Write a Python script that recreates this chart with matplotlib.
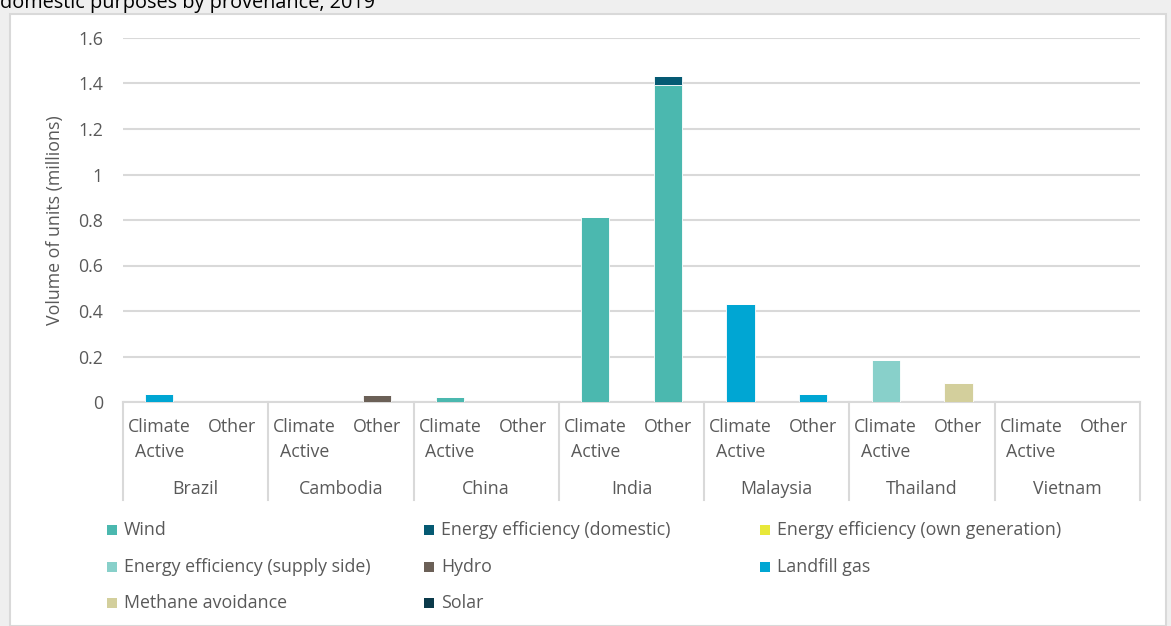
import matplotlib
matplotlib.use("Agg")
import matplotlib.pyplot as plt
from matplotlib.patches import Rectangle
from matplotlib.transforms import blended_transform_factory
import numpy as np

plt.rcParams['font.family'] = ['Open Sans', 'DejaVu Sans']

countries = ["Brazil", "Cambodia", "China", "India", "Malaysia", "Thailand", "Vietnam"]
provenance = ["Climate\nActive", "Other"]

# Volumes (millions of units) per slot: country x provenance (Climate Active, Other)
wind = [0, 0, 0, 0, 0.02, 0, 0.815, 1.395, 0, 0, 0, 0, 0, 0]
ee_domestic = [0, 0, 0, 0, 0, 0, 0, 0.04, 0, 0, 0, 0, 0, 0]
ee_own_generation = [0, 0, 0, 0, 0, 0, 0, 0, 0, 0, 0, 0, 0, 0]
ee_supply_side = [0, 0, 0, 0, 0, 0, 0, 0, 0, 0, 0.185, 0, 0, 0]
hydro = [0, 0, 0, 0.03, 0, 0, 0, 0, 0, 0, 0, 0, 0, 0]
landfill_gas = [0.035, 0, 0, 0, 0, 0, 0, 0, 0.43, 0.035, 0, 0, 0, 0]
methane_avoidance = [0, 0, 0, 0, 0, 0, 0, 0, 0, 0, 0, 0.085, 0, 0]
solar = [0, 0, 0, 0, 0, 0, 0, 0, 0, 0, 0, 0, 0, 0]

series = [
    ("Wind", wind, "#4BB8AF"),
    ("Energy efficiency (domestic)", ee_domestic, "#055A73"),
    ("Energy efficiency (own generation)", ee_own_generation, "#E8E83A"),
    ("Energy efficiency (supply side)", ee_supply_side, "#88D0CA"),
    ("Hydro", hydro, "#6B6057"),
    ("Landfill gas", landfill_gas, "#00A6D3"),
    ("Methane avoidance", methane_avoidance, "#D3CF9C"),
    ("Solar", solar, "#0B3A4A"),
]

W, H = 1171, 626
FS = 12.8
TXT = "#595959"
fig = plt.figure(figsize=(W / 100, H / 100), dpi=100)
fig.patch.set_facecolor("#EFEFEF")

# white chart panel with grey frame, kept behind the axes
panel = Rectangle((10 / W, 0), (1156 / W), 1 - 14 / H, transform=fig.transFigure,
                  facecolor="white", edgecolor="#D9D9D9", linewidth=1.5, zorder=-5)
fig.patches.append(panel)

fig.text(0.0, 1 - 8 / H, "domestic purposes by provenance, 2019", fontsize=14.3,
         color="black", va="baseline", ha="left")

ax = fig.add_axes([123 / W, (H - 402) / H, (1140 - 123) / W, (402 - 38) / H])
ax.set_facecolor("none")
ax.set_zorder(1)

n = len(countries) * len(provenance)
x = np.arange(n)
bottom = np.zeros(n)
for name, vals, col in series:
    v = np.array(vals, dtype=float)
    ax.bar(x, v, bottom=bottom, width=0.39, color=col, edgecolor="white",
           linewidth=0.6, zorder=3)
    bottom += v

ax.set_xlim(-0.5, n - 0.5)
ax.set_ylim(0, 1.6)
ax.set_yticks(np.arange(0, 1.61, 0.2))
ax.set_yticklabels(["0", "0.2", "0.4", "0.6", "0.8", "1", "1.2", "1.4", "1.6"])
ax.tick_params(axis="y", length=0, pad=14.5, labelsize=FS, labelcolor=TXT)
ax.set_xticks([])
ax.grid(axis="y", color="#D9D9D9", linewidth=1.5, zorder=0)
for s in ["top", "right", "left"]:
    ax.spines[s].set_visible(False)
ax.spines["bottom"].set_color("#D9D9D9")
ax.spines["bottom"].set_linewidth(1.5)
ax.set_ylabel("Volume of units (millions)", fontsize=FS, color=TXT, labelpad=10)

# two-level category axis
tr = blended_transform_factory(ax.transData, ax.transAxes)
ax_h = (402 - 38)
def ay(py):
    return (402 - py) / ax_h

for i in range(len(countries) + 1):
    ax.plot([2 * i - 0.5, 2 * i - 0.5], [0, ay(500)], transform=tr, color="#D9D9D9",
            linewidth=1.5, clip_on=False, zorder=1)
for ci, c in enumerate(countries):
    for pi, p in enumerate(provenance):
        ax.text(2 * ci + pi, ay(418), p, transform=tr, ha="center", va="top",
                fontsize=FS, color=TXT, linespacing=1.5, clip_on=False)
    ax.text(2 * ci + 0.5, ay(489), c, transform=tr, ha="center", va="center",
            fontsize=FS, color=TXT, clip_on=False)

# legend in three columns
col_x = [107, 424, 760]
row_y = [530, 567, 603]
for k, (name, vals, col) in enumerate(series):
    r, cidx = divmod(k, 3)
    px, py = col_x[cidx], row_y[r]
    fig.patches.append(Rectangle((px / W, (H - py - 5) / H), 10 / W, 10 / H,
                                 transform=fig.transFigure, facecolor=col,
                                 edgecolor="none", zorder=2))
    fig.text((px + 17) / W, (H - py) / H, name, fontsize=FS, color=TXT,
             va="center", ha="left")

fig.savefig("out.png", dpi=100, facecolor=fig.get_facecolor())
